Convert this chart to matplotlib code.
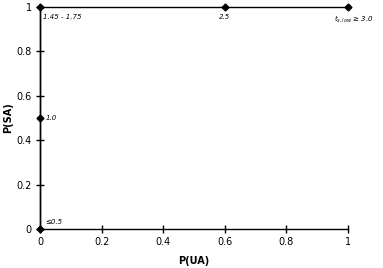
import matplotlib
matplotlib.use("Agg")
import matplotlib.pyplot as plt

p_ua = [0.0, 0.0, 0.0, 0.6, 1.0]
p_sa = [0.0, 0.5, 1.0, 1.0, 1.0]
labels = ["≤0.5", "1.0", "1.45 - 1.75", "2.5", "$t_{s,low}$ ≥ 3.0"]
xticks = [0, 0.2, 0.4, 0.6, 0.8, 1]
yticks = [0, 0.2, 0.4, 0.6, 0.8, 1]

fig = plt.figure(figsize=(3.83, 2.68), dpi=100)
ax = fig.add_axes([40 / 383, 39 / 268, 308 / 383, 222 / 268])
ax.plot(p_ua, p_sa, color="black", lw=1, marker="D", ms=3.5, clip_on=False, zorder=5)
offsets = [(4, 5), (4, 0), (2, -7), (-4, -7), (-10, -8)]
for x, y, t, off in zip(p_ua, p_sa, labels, offsets):
    ax.annotate(t, (x, y), xytext=off, textcoords="offset points",
                fontsize=5, style="italic", ha="left", va="center",
                annotation_clip=False)
ax.set_xlim(0, 1)
ax.set_ylim(0, 1)
ax.set_xticks(xticks)
ax.set_yticks(yticks)
ax.set_xticklabels([f"{v:g}" for v in xticks])
ax.set_yticklabels([f"{v:g}" for v in yticks])
for s in ["top", "right"]:
    ax.spines[s].set_visible(False)
for s in ["left", "bottom"]:
    ax.spines[s].set_linewidth(1)
ax.tick_params(direction="inout", length=6, width=1, labelsize=7, pad=3)
ax.set_xlabel("P(UA)", fontsize=7, fontweight="bold", labelpad=6)
ax.set_ylabel("P(SA)", fontsize=7, fontweight="bold", labelpad=2)
fig.savefig("out.png", dpi=100)
